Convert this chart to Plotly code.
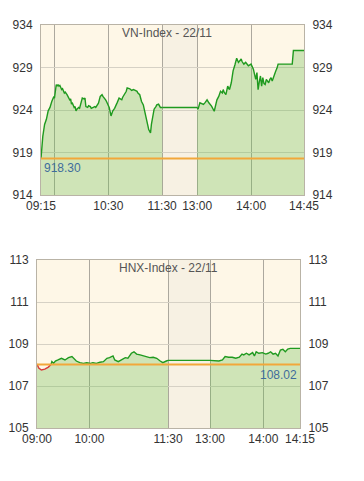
import numpy as np
import plotly.graph_objects as go

# ---------------- VN-Index, 22/11 ----------------
vn_morning_time = ["09:15", "09:16", "09:17", "09:19", "09:21", "09:23", "09:25", "09:27", "09:29",
                   "09:30", "09:32", "09:33", "09:34", "09:35", "09:36", "09:38", "09:39", "09:41",
                   "09:42", "09:44", "09:45", "09:47", "09:48", "09:49", "09:50", "09:52", "09:53",
                   "09:54", "09:55", "09:57", "09:58", "09:59", "10:00", "10:01", "10:03", "10:04",
                   "10:05", "10:07", "10:08", "10:10", "10:11", "10:13", "10:15", "10:16", "10:18",
                   "10:19", "10:21", "10:23", "10:24", "10:25", "10:27", "10:28", "10:30", "10:31",
                   "10:33", "10:34", "10:35", "10:37", "10:38", "10:40", "10:42", "10:43", "10:45",
                   "10:46", "10:48", "10:50", "10:51", "10:53", "10:54", "10:56", "10:58", "11:00",
                   "11:02", "11:03", "11:05", "11:07", "11:09", "11:10", "11:12", "11:14", "11:15",
                   "11:17", "11:18", "11:20", "11:21", "11:23", "11:24", "11:26", "11:27", "11:28",
                   "11:30"]
vn_morning_value = [918.3, 920.0, 920.9, 922.3, 922.9, 923.9, 924.3, 925.0, 925.5,
                    925.4, 927.0, 926.8, 927.0, 926.8, 926.9, 926.4, 926.5, 926.0,
                    926.1, 925.8, 925.6, 925.2, 925.3, 924.7, 924.8, 924.3, 924.4,
                    923.9, 924.1, 924.3, 924.2, 924.7, 924.9, 925.4, 925.3, 925.4,
                    924.4, 924.3, 924.5, 924.4, 924.2, 924.3, 924.4, 924.3, 924.7,
                    924.8, 925.6, 925.8, 925.6, 925.5, 925.2, 925.0, 924.5, 924.3,
                    923.3, 923.7, 923.9, 924.2, 924.4, 924.9, 925.4, 925.3, 925.2,
                    925.5, 925.8, 926.2, 926.6, 926.5, 926.5, 926.3, 926.4, 926.3,
                    926.2, 926.0, 925.8, 925.0, 924.6, 924.1, 922.9, 922.2, 921.7,
                    921.3, 922.3, 923.7, 924.1, 924.4, 924.6, 924.7, 924.5, 924.3,
                    924.3]
vn_lunch_time = ["11:30", "13:00"]
vn_lunch_value = [924.3, 924.3]
vn_afternoon_time = ["13:00", "13:01", "13:03", "13:05", "13:07", "13:09", "13:11", "13:13", "13:16",
                     "13:19", "13:21", "13:22", "13:24", "13:26", "13:28", "13:29", "13:30", "13:32",
                     "13:34", "13:36", "13:38", "13:40", "13:42", "13:43", "13:44", "13:46", "13:48",
                     "13:49", "13:50", "13:52", "13:54", "13:56", "13:57", "14:00", "14:01", "14:02",
                     "14:03", "14:04", "14:05", "14:06", "14:07", "14:08", "14:09", "14:10", "14:11",
                     "14:12", "14:13", "14:14", "14:15", "14:16", "14:17", "14:18", "14:19", "14:20",
                     "14:21", "14:22", "14:23", "14:35", "14:36", "14:45"]
vn_afternoon_value = [924.3, 924.1, 924.85, 924.7, 924.65, 924.9, 925.2, 924.85, 924.45,
                      923.85, 924.85, 925.2, 925.6, 926.2, 926.0, 926.4, 926.1, 925.8,
                      926.8, 926.4, 927.2, 928.6, 929.3, 929.6, 930.1, 929.6, 929.9,
                      930.0, 929.7, 929.4, 929.6, 929.3, 929.2, 929.4, 929.1, 928.8,
                      928.2, 927.6, 928.4, 926.4, 927.3, 928.0, 926.8, 927.8, 927.1,
                      927.0, 927.6, 927.3, 927.2, 927.6, 927.8, 927.4, 927.9, 928.4,
                      928.6, 928.9, 929.4, 929.4, 931.0, 931.0]
vn_reference = 918.30

vn_tick_labels = ["09:15", "10:30", "11:30", "13:00", "14:00", "14:45"]
vn_grid_times = ["09:30", "10:30", "11:30", "13:00", "14:00"]
vn_y_ticks = [914, 919, 924, 929, 934]

# ---------------- HNX-Index, 22/11 ----------------
hnx_open_time = ["09:00", "09:02", "09:05", "09:09", "09:13", "09:16"]
hnx_open_value = [108.05, 107.86, 107.76, 107.80, 107.90, 108.02]
hnx_morning_time = ["09:16", "09:17", "09:19", "09:21", "09:24", "09:28", "09:32", "09:36", "09:40",
                    "09:42", "09:45", "09:49", "09:53", "09:57", "10:01", "10:04", "10:08", "10:12",
                    "10:16", "10:20", "10:23", "10:27", "10:29", "10:33", "10:37", "10:41", "10:44",
                    "10:48", "10:51", "10:54", "10:58", "11:02", "11:05", "11:09", "11:13", "11:17",
                    "11:21", "11:24", "11:28", "11:30"]
hnx_morning_value = [108.02, 108.16, 108.08, 108.19, 108.24, 108.32, 108.24, 108.35, 108.40,
                     108.32, 108.19, 108.11, 108.08, 108.11, 108.08, 108.11, 108.08, 108.13,
                     108.16, 108.32, 108.35, 108.43, 108.24, 108.16, 108.24, 108.35, 108.32,
                     108.56, 108.63, 108.52, 108.48, 108.43, 108.40, 108.35, 108.37, 108.32,
                     108.19, 108.11, 108.19, 108.22]
hnx_lunch_time = ["11:30", "13:00"]
hnx_lunch_value = [108.22, 108.22]
hnx_afternoon_time = ["13:00", "13:10", "13:14", "13:17", "13:21", "13:25", "13:29", "13:33", "13:36",
                      "13:38", "13:41", "13:44", "13:48", "13:50", "13:52", "13:55", "13:59", "14:01",
                      "14:02", "14:03", "14:04", "14:05", "14:06", "14:07", "14:08", "14:09", "14:10",
                      "14:11", "14:15"]
hnx_afternoon_value = [108.22, 108.19, 108.24, 108.40, 108.37, 108.37, 108.32, 108.37, 108.52,
                       108.48, 108.56, 108.48, 108.59, 108.43, 108.63, 108.56, 108.59, 108.52,
                       108.56, 108.63, 108.52, 108.56, 108.43, 108.71, 108.75, 108.63, 108.76,
                       108.79, 108.79]
hnx_reference = 108.02

hnx_tick_labels = ["09:00", "10:00", "11:30", "13:00", "14:00", "14:15"]
hnx_grid_times = ["10:00", "11:30", "13:00", "14:00"]
hnx_y_ticks = [105, 107, 109, 111, 113]

# Session axis: clock time -> position on the compressed trading-day axis
VN_SCALE = (["09:15", "11:30", "13:00", "14:00", "14:45"], [0, 135, 174, 234, 293])
HNX_SCALE = (["09:00", "11:30", "13:00", "14:00", "14:15"], [0, 150, 198, 259, 301])


def minutes(t):
    h, m = t.split(":")
    return int(h) * 60 + int(m)


def to_pos(times, scale):
    knots_t, knots_p = scale
    return np.interp([minutes(t) for t in times], [minutes(t) for t in knots_t], knots_p).tolist()


FONT = "Liberation Sans, Arial, sans-serif"
LINE_GREEN = "#1f9a1f"
LINE_RED = "#d83a3a"
FILL_GREEN = "rgba(110,190,80,0.32)"
REF_ORANGE = "#f2a73a"
LABEL_BLUE = "#3f6c9c"
BAND = "#f7f1e3"

fig = go.Figure()


def add_chart(xa, ya, ya_r, scale, sessions, lines, ref, ref_label, label_side):
    # green area under each trading session
    for times, vals in sessions:
        fig.add_trace(go.Scatter(x=to_pos(times, scale), y=vals, mode="lines",
                                 line=dict(width=0, color=LINE_GREEN), fill="tozeroy",
                                 fillcolor=FILL_GREEN, hoverinfo="skip", showlegend=False,
                                 xaxis=xa, yaxis=ya))
    # reference (previous close)
    end = scale[0]
    fig.add_trace(go.Scatter(x=to_pos([end[0], end[-1]], scale), y=[ref, ref], mode="lines",
                             line=dict(color=REF_ORANGE, width=2), showlegend=False,
                             hoverinfo="skip", xaxis=xa, yaxis=ya_r))
    # index line
    for times, vals, color in lines:
        fig.add_trace(go.Scatter(x=to_pos(times, scale), y=vals, mode="lines",
                                 line=dict(color=color, width=1.4), showlegend=False,
                                 xaxis=xa, yaxis=ya))
    if label_side == "left":
        fig.add_annotation(xref=f"{xa} domain", x=0, xanchor="left", xshift=1,
                           yref=ya, y=ref, yanchor="middle", yshift=-10,
                           text=ref_label, showarrow=False,
                           font=dict(family=FONT, size=12, color=LABEL_BLUE))
    else:
        fig.add_annotation(xref=f"{xa} domain", x=1, xanchor="right", xshift=-1,
                           yref=ya, y=ref, yanchor="middle", yshift=-10,
                           text=ref_label, showarrow=False,
                           font=dict(family=FONT, size=12, color=LABEL_BLUE))


add_chart("x", "y", "y2", VN_SCALE,
          [(vn_morning_time, vn_morning_value), (vn_afternoon_time, vn_afternoon_value)],
          [(vn_morning_time, vn_morning_value, LINE_GREEN),
           (vn_lunch_time, vn_lunch_value, LINE_GREEN),
           (vn_afternoon_time, vn_afternoon_value, LINE_GREEN)],
          vn_reference, f"{vn_reference:.2f}", "left")

add_chart("x2", "y3", "y4", HNX_SCALE,
          [(hnx_open_time + hnx_morning_time, hnx_open_value + hnx_morning_value),
           (hnx_afternoon_time, hnx_afternoon_value)],
          [(hnx_open_time, hnx_open_value, LINE_RED),
           (hnx_morning_time, hnx_morning_value, LINE_GREEN),
           (hnx_lunch_time, hnx_lunch_value, LINE_GREEN),
           (hnx_afternoon_time, hnx_afternoon_value, LINE_GREEN)],
          hnx_reference, f"{hnx_reference:.2f}", "right")

# lunch break bands
for xa, ya, scale in (("x", "y", VN_SCALE), ("x2", "y3", HNX_SCALE)):
    p0, p1 = to_pos(["11:30", "13:00"], scale)
    fig.add_shape(type="rect", xref=xa, yref=f"{ya} domain", x0=p0, x1=p1, y0=0, y1=1,
                  fillcolor=BAND, line=dict(width=0), layer="below")

# titles
fig.add_annotation(xref="x domain", yref="y domain", x=0.48, y=0.95, yanchor="middle",
                   text="VN-Index - 22/11", showarrow=False,
                   font=dict(family=FONT, size=12, color="#555"))
fig.add_annotation(xref="x2 domain", yref="y3 domain", x=0.5, y=0.95, yanchor="middle",
                   text="HNX-Index - 22/11", showarrow=False,
                   font=dict(family=FONT, size=12, color="#555"))

tick_font = dict(family=FONT, size=12, color="#333")
W, H = 364, 481


def xaxis_cfg(left_px, right_px, scale, labels, grids, anchor):
    return dict(domain=[left_px / W, right_px / W], range=[0, scale[1][-1]], anchor=anchor,
                tickmode="array", tickvals=to_pos(labels, scale), ticktext=labels,
                showgrid=False, zeroline=False, ticks="", tickfont=tick_font,
                showline=True, mirror=True, linecolor="#b9b3a6", linewidth=1,
                minor=dict(tickmode="array", tickvals=to_pos(grids, scale), showgrid=True,
                           gridcolor="#aca89e", gridwidth=1, ticks=""),
                automargin=False, fixedrange=True)


def yaxis_cfg(top_px, bottom_px, ticks, anchor, side="left", overlay=None):
    cfg = dict(domain=[1 - bottom_px / H, 1 - top_px / H], range=[ticks[0], ticks[-1]],
               tickmode="array", tickvals=ticks, showgrid=True, gridcolor="#d6d1c5",
               zeroline=False, ticks="outside", ticklen=5, tickcolor="rgba(0,0,0,0)",
               tickfont=tick_font, showline=True, mirror=True, linecolor="#b9b3a6",
               linewidth=1, anchor=anchor, side=side, automargin=False, fixedrange=True)
    if overlay:
        cfg.update(overlaying=overlay, showgrid=False, showline=False)
    return cfg


fig.update_layout(
    width=W, height=H,
    margin=dict(l=0, r=0, t=0, b=0),
    paper_bgcolor="white",
    plot_bgcolor="#fef7e7",
    showlegend=False,
    xaxis=xaxis_cfg(41, 304, VN_SCALE, vn_tick_labels, vn_grid_times, "y"),
    yaxis=yaxis_cfg(25, 195, vn_y_ticks, "x"),
    yaxis2=yaxis_cfg(25, 195, vn_y_ticks, "x", side="right", overlay="y"),
    xaxis2=xaxis_cfg(37, 300, HNX_SCALE, hnx_tick_labels, hnx_grid_times, "y3"),
    yaxis3=yaxis_cfg(260, 428, hnx_y_ticks, "x2"),
    yaxis4=yaxis_cfg(260, 428, hnx_y_ticks, "x2", side="right", overlay="y3"),
)

fig.write_html("out.html")
